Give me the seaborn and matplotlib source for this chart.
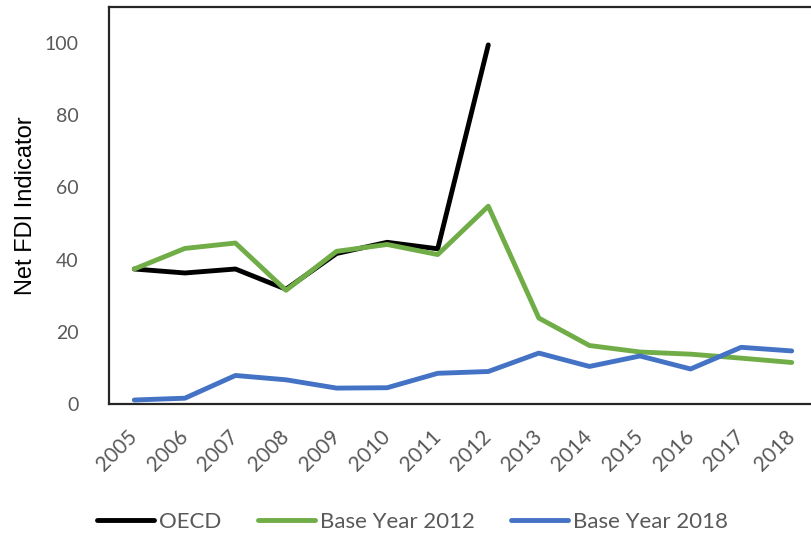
import numpy as np
import pandas as pd
import matplotlib
matplotlib.use('Agg')
import matplotlib.pyplot as plt
import seaborn as sns

# 数据
years = list(range(2005, 2019))
oecd = [37.4, 36.3, 37.4, 31.8, 41.7, 44.8, 43.0, 99.5,
        np.nan, np.nan, np.nan, np.nan, np.nan, np.nan]
base_2012 = [37.4, 43.1, 44.6, 31.5, 42.3, 44.2, 41.4, 54.8,
             23.8, 16.2, 14.4, 13.8, 12.7, 11.5]
base_2018 = [1.1, 1.6, 7.9, 6.7, 4.4, 4.5, 8.5, 9.0,
             14.1, 10.4, 13.3, 9.7, 15.7, 14.7]
series_names = ['OECD', 'Base Year 2012', 'Base Year 2018']
colors = ['#000000', '#70AD47', '#4472C4']

df = pd.DataFrame({'Year': years * 3,
                   'Value': oecd + base_2012 + base_2018,
                   'Series': np.repeat(series_names, len(years))})
df = df.dropna()

sns.set_style('white')
plt.rcParams['font.family'] = ['Lato', 'DejaVu Sans']

fig = plt.figure(figsize=(8.11, 5.35), dpi=100)
ax = fig.add_axes([0.1344, 0.2449, 0.873, 0.742])

sns.lineplot(data=df, x='Year', y='Value', hue='Series', hue_order=series_names,
             palette=colors, linewidth=3.5, ax=ax, legend=True)

ax.set_xlim(2004.5, 2018.5)
ax.set_ylim(0, 110)
ax.set_yticks([0, 20, 40, 60, 80, 100])
ax.set_xticks(years)
ax.set_xticklabels([str(y) for y in years], rotation=45, ha='right', va='center',
                   rotation_mode='anchor')
ax.tick_params(axis='both', length=0, labelcolor='#595959')
ax.tick_params(axis='y', pad=22, labelsize=14)
ax.tick_params(axis='x', pad=21, labelsize=15)
ax.set_xlabel('')
# y轴标题
ax.set_ylabel('Net FDI Indicator', fontsize=17, color='black',
              family=['Liberation Sans', 'DejaVu Sans'])
ax.yaxis.set_label_coords(-0.102, 0.5)

for side in ['left', 'top', 'bottom']:
    ax.spines[side].set_color('#262626')
    ax.spines[side].set_linewidth(1.6)
ax.spines['right'].set_visible(False)

handles, labels = ax.get_legend_handles_labels()
ax.legend(handles, labels, loc='center left', bbox_to_anchor=(0.12, 0.025),
          bbox_transform=fig.transFigure, ncol=3, frameon=False, fontsize=16,
          handlelength=2.55, handletextpad=0.23, columnspacing=1.65,
          borderaxespad=0, borderpad=0, labelcolor='#595959')

fig.savefig('out.png', dpi=100)
